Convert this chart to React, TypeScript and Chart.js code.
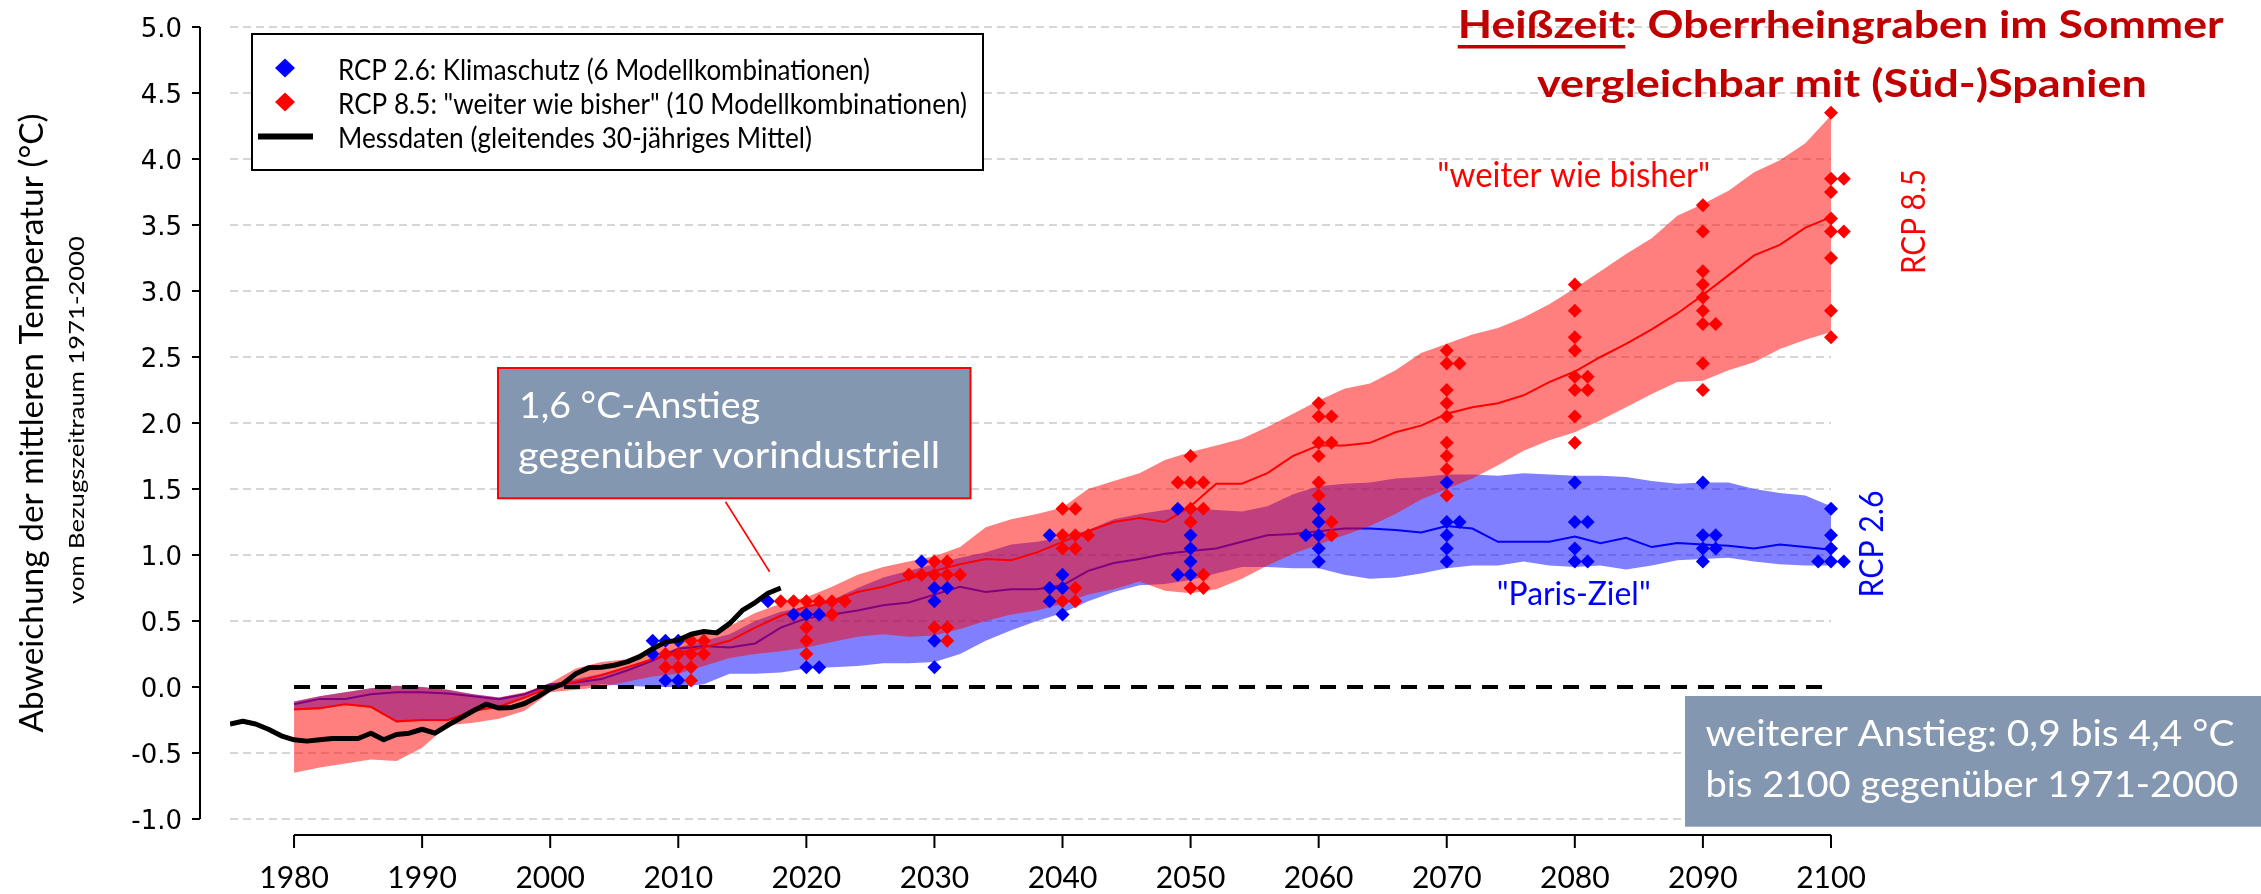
import React, { useEffect, useRef } from 'react';
import { Chart, registerables } from 'chart.js';

Chart.register(...registerables);

// ---------------- data ----------------
const bandYears = [
  1980, 1982, 1984, 1986, 1988, 1990, 1992, 1994, 1996, 1998,
  2000, 2002, 2004, 2006, 2008, 2010, 2012, 2014, 2016, 2018,
  2020, 2022, 2024, 2026, 2028, 2030, 2032, 2034, 2036, 2038,
  2040, 2042, 2044, 2046, 2048, 2050, 2052, 2054, 2056, 2058,
  2060, 2062, 2064, 2066, 2068, 2070, 2072, 2074, 2076, 2078,
  2080, 2082, 2084, 2086, 2088, 2090, 2092, 2094, 2096, 2098,
  2100,
];

const rcp85Upper = [
  -0.11, -0.07, -0.04, -0.01, 0.01, 0.0, -0.02, -0.055, -0.08, -0.04,
  0.03, 0.14, 0.19, 0.21, 0.3, 0.36, 0.41, 0.46, 0.56, 0.63,
  0.68, 0.76, 0.85, 0.91, 0.95, 0.99, 1.06, 1.21, 1.27, 1.31,
  1.36, 1.5, 1.56, 1.62, 1.72, 1.78, 1.83, 1.88, 1.97, 2.07,
  2.17, 2.26, 2.3, 2.4, 2.53, 2.6, 2.67, 2.72, 2.8, 2.9,
  3.02, 3.15, 3.28, 3.4, 3.57, 3.66, 3.76, 3.9, 3.99, 4.12,
  4.33,
];

const rcp85Mean = [
  -0.17, -0.16, -0.13, -0.15, -0.26, -0.25, -0.25, -0.18, -0.15, -0.08,
  0.0, 0.04, 0.09, 0.15, 0.21, 0.26, 0.3, 0.35, 0.45, 0.54,
  0.61, 0.65, 0.72, 0.76, 0.82, 0.88, 0.93, 0.97, 0.96, 1.02,
  1.1, 1.18, 1.25, 1.28, 1.25, 1.37, 1.54, 1.54, 1.62, 1.75,
  1.83, 1.83, 1.85, 1.93, 1.98, 2.07, 2.12, 2.15, 2.21, 2.31,
  2.39, 2.5, 2.6, 2.71, 2.83, 2.97, 3.12, 3.27, 3.35, 3.48,
  3.56,
];

const rcp85Lower = [
  -0.65, -0.61, -0.58, -0.55, -0.56, -0.46, -0.29, -0.27, -0.24, -0.18,
  -0.04, -0.02, 0.0, 0.04, 0.08, 0.1, 0.16, 0.22, 0.25, 0.27,
  0.3, 0.34, 0.38, 0.4, 0.38, 0.39, 0.44, 0.5, 0.55, 0.58,
  0.63, 0.7, 0.74, 0.8, 0.73, 0.71, 0.74, 0.82, 0.92, 1.01,
  1.08, 1.15, 1.22, 1.31, 1.42, 1.5, 1.58, 1.68, 1.79, 1.87,
  1.93, 2.02, 2.12, 2.22, 2.31, 2.32, 2.4, 2.46, 2.56, 2.63,
  2.69,
];

const rcp26Upper = [
  -0.11, -0.07, -0.04, -0.01, 0.01, 0.0, -0.02, -0.055, -0.08, -0.045,
  0.02, 0.06, 0.1, 0.15, 0.22, 0.3, 0.35, 0.4, 0.5, 0.57,
  0.61, 0.66, 0.75, 0.83, 0.88, 0.93, 0.98, 1.02, 1.08, 1.1,
  1.13, 1.19, 1.27, 1.31, 1.34, 1.36, 1.34, 1.33, 1.37, 1.46,
  1.52, 1.54, 1.55, 1.58, 1.59, 1.61, 1.61, 1.6, 1.62, 1.61,
  1.6, 1.6, 1.59, 1.56, 1.54, 1.55, 1.55, 1.5, 1.47, 1.45,
  1.37,
];

const rcp26Mean = [
  -0.13, -0.09, -0.09, -0.055, -0.04, -0.04, -0.05, -0.07, -0.093, -0.055,
  0.02, 0.035, 0.06, 0.125, 0.2, 0.29, 0.31, 0.3, 0.33, 0.45,
  0.52, 0.55, 0.58, 0.62, 0.64, 0.7, 0.76, 0.72, 0.74, 0.74,
  0.77, 0.88, 0.94, 0.97, 1.01, 1.03, 1.05, 1.1, 1.15, 1.16,
  1.18, 1.2, 1.2, 1.19, 1.17, 1.22, 1.2, 1.1, 1.1, 1.1,
  1.14, 1.09, 1.13, 1.06, 1.09, 1.08, 1.07, 1.05, 1.08, 1.06,
  1.04,
];

const rcp26Lower = [
  -0.175, -0.17, -0.135, -0.16, -0.27, -0.255, -0.26, -0.185, -0.155, -0.085,
  -0.01, 0.0, 0.02, 0.01, 0.0, 0.0, 0.02, 0.1, 0.1, 0.11,
  0.14, 0.15, 0.16, 0.18, 0.18, 0.19, 0.25, 0.35, 0.43, 0.5,
  0.56, 0.65, 0.72, 0.77, 0.78, 0.81, 0.86, 0.91, 0.91, 0.9,
  0.9, 0.85, 0.82, 0.83, 0.86, 0.9, 0.92, 0.92, 0.95, 0.92,
  0.91, 0.92, 0.89, 0.92, 0.96, 0.97, 0.98, 0.95, 0.93, 0.92,
  0.92,
];

const obsYears = [
  1975, 1976, 1977, 1978, 1979, 1980, 1981, 1982, 1983, 1984,
  1985, 1986, 1987, 1988, 1989, 1990, 1991, 1992, 1993, 1994,
  1995, 1996, 1997, 1998, 1999, 2000, 2001, 2002, 2003, 2004,
  2005, 2006, 2007, 2008, 2009, 2010, 2011, 2012, 2013, 2014,
  2015, 2016, 2017, 2018,
];
const obsValues = [
  -0.28, -0.26, -0.28, -0.32, -0.37, -0.4, -0.41, -0.4, -0.39, -0.39,
  -0.39, -0.35, -0.4, -0.36, -0.35, -0.32, -0.35, -0.29, -0.235, -0.18,
  -0.13, -0.16, -0.155, -0.125, -0.075, -0.015, 0.025, 0.1, 0.145, 0.15,
  0.165, 0.19, 0.23, 0.29, 0.34, 0.355, 0.4, 0.42, 0.41, 0.48,
  0.58, 0.64, 0.71, 0.75,
];

const rcp26MarkerYears = [
  2008, 2009, 2010, 2008, 2009, 2010,
  2017, 2019, 2020, 2021, 2020, 2021,
  2029, 2030, 2031, 2030, 2030, 2030,
  2039, 2040, 2039, 2040, 2039, 2040,
  2049, 2050, 2050, 2050, 2049, 2050,
  2060, 2060, 2059, 2060, 2060, 2060,
  2070, 2070, 2071, 2070, 2070, 2070,
  2080, 2080, 2081, 2080, 2080, 2081,
  2090, 2090, 2091, 2090, 2091, 2090,
  2100, 2100, 2100, 2099, 2100, 2101,
];
const rcp26MarkerValues = [
  0.35, 0.35, 0.35, 0.25, 0.05, 0.05,
  0.65, 0.55, 0.55, 0.55, 0.15, 0.15,
  0.95, 0.75, 0.75, 0.65, 0.35, 0.15,
  1.15, 0.85, 0.75, 0.75, 0.65, 0.55,
  1.35, 1.15, 1.05, 0.95, 0.85, 0.85,
  1.35, 1.25, 1.15, 1.15, 1.05, 0.95,
  1.55, 1.25, 1.25, 1.15, 1.05, 0.95,
  1.55, 1.25, 1.25, 1.05, 0.95, 0.95,
  1.55, 1.15, 1.15, 1.05, 1.05, 0.95,
  1.35, 1.15, 1.05, 0.95, 0.95, 0.95,
];

const rcp85MarkerYears = [
  2011, 2012, 2009, 2010, 2011, 2012, 2009, 2010, 2011, 2011,
  2018, 2019, 2020, 2021, 2022, 2023, 2022, 2020, 2020, 2020,
  2030, 2031, 2028, 2029, 2030, 2031, 2032, 2030, 2031, 2031,
  2040, 2041, 2040, 2041, 2042, 2040, 2041, 2041, 2040, 2041,
  2050, 2049, 2050, 2051, 2050, 2051, 2050, 2051, 2050, 2051,
  2060, 2060, 2061, 2060, 2061, 2060, 2060, 2060, 2061, 2061,
  2070, 2070, 2071, 2070, 2070, 2070, 2070, 2070, 2070, 2070,
  2080, 2080, 2080, 2080, 2080, 2081, 2080, 2081, 2080, 2080,
  2090, 2090, 2090, 2090, 2090, 2090, 2090, 2091, 2090, 2090,
  2100, 2100, 2101, 2100, 2100, 2100, 2101, 2100, 2100, 2100,
];
const rcp85MarkerValues = [
  0.35, 0.35, 0.25, 0.25, 0.25, 0.25, 0.15, 0.15, 0.15, 0.05,
  0.65, 0.65, 0.65, 0.65, 0.65, 0.65, 0.55, 0.45, 0.35, 0.25,
  0.95, 0.95, 0.85, 0.85, 0.85, 0.85, 0.85, 0.45, 0.45, 0.35,
  1.35, 1.35, 1.15, 1.15, 1.15, 1.05, 1.05, 0.75, 0.65, 0.65,
  1.75, 1.55, 1.55, 1.55, 1.35, 1.35, 1.25, 0.85, 0.75, 0.75,
  2.15, 2.05, 2.05, 1.85, 1.85, 1.75, 1.55, 1.45, 1.25, 1.15,
  2.55, 2.45, 2.45, 2.25, 2.15, 2.05, 1.85, 1.75, 1.65, 1.45,
  3.05, 2.85, 2.65, 2.55, 2.35, 2.35, 2.25, 2.25, 2.05, 1.85,
  3.65, 3.45, 3.15, 3.05, 2.95, 2.85, 2.75, 2.75, 2.45, 2.25,
  4.35, 3.85, 3.85, 3.75, 3.55, 3.45, 3.45, 3.25, 2.85, 2.65,
];

const zeroLineYears = [1980, 2100];
const zeroLineValues = [0, 0];

const yTicks = [5.0, 4.5, 4.0, 3.5, 3.0, 2.5, 2.0, 1.5, 1.0, 0.5, 0.0, -0.5, -1.0];
const xTicks = [1980, 1990, 2000, 2010, 2020, 2030, 2040, 2050, 2060, 2070, 2080, 2090, 2100];

const legendLabels = [
  'RCP 2.6: Klimaschutz (6 Modellkombinationen)',
  'RCP 8.5: "weiter wie bisher" (10 Modellkombinationen)',
  'Messdaten (gleitendes 30-jähriges Mittel)',
];
const titleStrong = 'Heißzeit';
const titleRest = ': Oberrheingraben im Sommer';
const titleLine2 = 'vergleichbar mit (Süd-)Spanien';
const yTitle = 'Abweichung der mittleren Temperatur (°C)';
const ySubTitle = 'vom Bezugszeitraum 1971-2000';
const note1 = ['1,6 °C-Anstieg', 'gegenüber vorindustriell'];
const note2 = ['weiterer Anstieg: 0,9 bis 4,4 °C', 'bis 2100 gegenüber 1971-2000'];
const label85 = '"weiter wie bisher"';
const label26 = '"Paris-Ziel"';
const side85 = 'RCP 8.5';
const side26 = 'RCP 2.6';

// ---------------- helpers ----------------
const W = 2261;
const H = 894;
const RED = '#ff0000';
const BLUE = '#0000ff';
const DARKRED = '#c00000';
const BOXFILL = '#8497b0';
const SANS = 'Lato, "Open Sans", "Noto Sans", sans-serif';

const pts = (xs: number[], ys: number[]) => xs.map((x, i) => ({ x, y: ys[i] }));

function drawFit(
  ctx: CanvasRenderingContext2D,
  text: string,
  x: number,
  y: number,
  font: string,
  color: string,
  width: number,
  align: CanvasTextAlign = 'left',
  rotate = 0
) {
  ctx.save();
  ctx.font = font;
  const w = ctx.measureText(text).width;
  const s = width / w;
  ctx.translate(x, y);
  if (rotate) ctx.rotate(rotate);
  ctx.scale(s, 1);
  ctx.fillStyle = color;
  ctx.textAlign = align;
  ctx.textBaseline = 'alphabetic';
  ctx.fillText(text, 0, 0);
  ctx.restore();
  return s;
}

function diamond(ctx: CanvasRenderingContext2D, cx: number, cy: number, hw: number, hh: number, color: string) {
  ctx.beginPath();
  ctx.moveTo(cx - hw, cy);
  ctx.lineTo(cx, cy - hh);
  ctx.lineTo(cx + hw, cy);
  ctx.lineTo(cx, cy + hh);
  ctx.closePath();
  ctx.fillStyle = color;
  ctx.fill();
}

const decor = {
  id: 'decor',
  beforeDatasetsDraw(chart: any) {
    const { ctx, chartArea } = chart;
    const xs = chart.scales.x;
    const ys = chart.scales.y;
    ctx.save();
    ctx.strokeStyle = '#d6d6d6';
    ctx.lineWidth = 2;
    ctx.setLineDash([8, 5]);
    const x0 = chartArea.left;
    const x1 = xs.getPixelForValue(xTicks[xTicks.length - 1]);
    yTicks.forEach((v) => {
      if (v === 0) return;
      const py = Math.round(ys.getPixelForValue(v));
      ctx.beginPath();
      ctx.moveTo(x0, py);
      ctx.lineTo(x1, py);
      ctx.stroke();
    });
    ctx.restore();
  },
  afterDraw(chart: any) {
    const { ctx, chartArea } = chart;
    const xs = chart.scales.x;
    const ys = chart.scales.y;
    ctx.save();
    ctx.setLineDash([]);

    // ---- y axis ----
    const axX = chartArea.left - 30;
    ctx.strokeStyle = '#000';
    ctx.lineWidth = 2;
    ctx.beginPath();
    ctx.moveTo(axX, ys.getPixelForValue(yTicks[0]));
    ctx.lineTo(axX, ys.getPixelForValue(yTicks[yTicks.length - 1]));
    ctx.stroke();
    ctx.font = '26px "DejaVu Sans", Verdana, sans-serif';
    ctx.fillStyle = '#000';
    ctx.textAlign = 'right';
    ctx.textBaseline = 'alphabetic';
    yTicks.forEach((v) => {
      const py = ys.getPixelForValue(v);
      ctx.beginPath();
      ctx.moveTo(axX - 8, py);
      ctx.lineTo(axX, py);
      ctx.stroke();
      ctx.fillText(v.toFixed(1), axX - 18, py + 9.5);
    });

    // ---- x axis ----
    const axY = chartArea.bottom + 16;
    ctx.beginPath();
    ctx.moveTo(xs.getPixelForValue(xTicks[0]), axY);
    ctx.lineTo(xs.getPixelForValue(xTicks[xTicks.length - 1]), axY);
    ctx.stroke();
    ctx.font = `30px ${SANS}`;
    ctx.textAlign = 'center';
    xTicks.forEach((t) => {
      const px = xs.getPixelForValue(t);
      ctx.beginPath();
      ctx.moveTo(px, axY);
      ctx.lineTo(px, axY + 13);
      ctx.stroke();
      ctx.fillText(String(t), px, 888);
    });

    // ---- y titles ----
    const midY = (chartArea.top + chartArea.bottom) / 2;
    drawFit(ctx, yTitle, 43, midY, `32px ${SANS}`, '#000', 619, 'center', -Math.PI / 2);
    drawFit(ctx, ySubTitle, 84, midY - 3, `22px ${SANS}`, '#000', 368, 'center', -Math.PI / 2);

    // ---- legend ----
    ctx.fillStyle = '#fff';
    ctx.fillRect(252, 34, 731, 136);
    ctx.strokeStyle = '#000';
    ctx.lineWidth = 2;
    ctx.strokeRect(252, 34, 731, 136);
    diamond(ctx, 285, 68, 10, 9.5, BLUE);
    diamond(ctx, 285, 102, 10, 9.5, RED);
    ctx.fillStyle = '#000';
    ctx.fillRect(258, 133.5, 55, 6);
    drawFit(ctx, legendLabels[0], 338, 80, `28px ${SANS}`, '#000', 532);
    drawFit(ctx, legendLabels[1], 338, 114, `28px ${SANS}`, '#000', 629);
    drawFit(ctx, legendLabels[2], 338, 148, `28px ${SANS}`, '#000', 474);

    // ---- title ----
    const tfont = `bold 38px ${SANS}`;
    const full = titleStrong + titleRest;
    const s = drawFit(ctx, full, 1457.7, 37.5, tfont, DARKRED, 766);
    ctx.font = tfont;
    const ulw = ctx.measureText(titleStrong).width * s;
    ctx.fillStyle = DARKRED;
    ctx.fillRect(1457.7, 45, ulw, 3.5);
    drawFit(ctx, titleLine2, 1842, 97, tfont, DARKRED, 610, 'center');

    // ---- annotation 1 ----
    ctx.fillStyle = BOXFILL;
    ctx.fillRect(498, 368, 472.5, 130.3);
    ctx.strokeStyle = RED;
    ctx.lineWidth = 2;
    ctx.strokeRect(498, 368, 472.5, 130.3);
    drawFit(ctx, note1[0], 519, 418.3, `36px ${SANS}`, '#fff', 241);
    drawFit(ctx, note1[1], 518, 468.3, `36px ${SANS}`, '#fff', 422);
    ctx.strokeStyle = RED;
    ctx.lineWidth = 1.6;
    ctx.beginPath();
    ctx.moveTo(725.5, 501.7);
    ctx.lineTo(769.6, 571.7);
    ctx.stroke();

    // ---- annotation 2 ----
    ctx.fillStyle = BOXFILL;
    ctx.fillRect(1685, 696, W - 1685, 130.7);
    drawFit(ctx, note2[0], 1705.4, 745.7, `37px ${SANS}`, '#fff', 529);
    drawFit(ctx, note2[1], 1705.4, 796.7, `37px ${SANS}`, '#fff', 533);

    // ---- scenario labels ----
    drawFit(ctx, label85, 1437.3, 186.7, `34px ${SANS}`, RED, 273);
    drawFit(ctx, label26, 1496.7, 605, `33px ${SANS}`, BLUE, 154);
    drawFit(ctx, side85, 1925, 221.5, `33px ${SANS}`, RED, 105, 'center', -Math.PI / 2);
    drawFit(ctx, side26, 1883.3, 544, `33px ${SANS}`, BLUE, 107, 'center', -Math.PI / 2);

    ctx.restore();
  },
};

export default function App() {
  const ref = useRef<HTMLCanvasElement | null>(null);

  useEffect(() => {
    const canvas = ref.current;
    if (!canvas) return;
    const lineBase = { pointRadius: 0, tension: 0, fill: false };
    const chart = new Chart(canvas, {
      type: 'line',
      data: {
        datasets: [
          {
            label: 'Messdaten',
            data: pts(obsYears, obsValues),
            borderColor: '#000',
            borderWidth: 5,
            borderJoinStyle: 'round',
            ...lineBase,
            order: 0,
          },
          {
            label: 'RCP 8.5 Modelle',
            data: pts(rcp85MarkerYears, rcp85MarkerValues),
            showLine: false,
            pointStyle: 'rectRot',
            pointRadius: 7,
            pointBorderWidth: 0,
            pointBackgroundColor: RED,
            borderColor: RED,
            order: 1,
          },
          {
            label: 'RCP 2.6 Modelle',
            data: pts(rcp26MarkerYears, rcp26MarkerValues),
            showLine: false,
            pointStyle: 'rectRot',
            pointRadius: 7,
            pointBorderWidth: 0,
            pointBackgroundColor: BLUE,
            borderColor: BLUE,
            order: 2,
          },
          {
            label: 'Null',
            data: pts(zeroLineYears, zeroLineValues),
            borderColor: '#000',
            borderWidth: 4,
            borderDash: [16, 11],
            ...lineBase,
            order: 3,
          },
          {
            label: 'RCP 8.5 Mittel',
            data: pts(bandYears, rcp85Mean),
            borderColor: RED,
            borderWidth: 2,
            ...lineBase,
            order: 4,
          },
          {
            label: 'RCP 8.5 max',
            data: pts(bandYears, rcp85Upper),
            borderColor: 'transparent',
            borderWidth: 0,
            backgroundColor: 'rgba(255,0,0,0.5)',
            pointRadius: 0,
            tension: 0,
            fill: '+1',
            order: 5,
          },
          {
            label: 'RCP 8.5 min',
            data: pts(bandYears, rcp85Lower),
            borderColor: 'transparent',
            borderWidth: 0,
            ...lineBase,
            order: 6,
          },
          {
            label: 'RCP 2.6 Mittel',
            data: pts(bandYears, rcp26Mean),
            borderColor: BLUE,
            borderWidth: 2,
            ...lineBase,
            order: 7,
          },
          {
            label: 'RCP 2.6 max',
            data: pts(bandYears, rcp26Upper),
            borderColor: 'transparent',
            borderWidth: 0,
            backgroundColor: 'rgba(0,0,255,0.5)',
            pointRadius: 0,
            tension: 0,
            fill: '+1',
            order: 8,
          },
          {
            label: 'RCP 2.6 min',
            data: pts(bandYears, rcp26Lower),
            borderColor: 'transparent',
            borderWidth: 0,
            ...lineBase,
            order: 9,
          },
        ],
      },
      options: {
        responsive: false,
        maintainAspectRatio: false,
        animation: false,
        devicePixelRatio: 1,
        events: [],
        layout: { padding: { left: 230, right: 404.4, top: 27, bottom: 75 } },
        scales: {
          x: { type: 'linear', min: 1975, max: 2102, display: false },
          y: { type: 'linear', min: -1, max: 5, display: false },
        },
        plugins: {
          legend: { display: false },
          tooltip: { enabled: false },
          title: { display: false },
          filler: { propagate: false },
        },
      },
      plugins: [decor],
    } as any);
    return () => chart.destroy();
  }, []);

  return (
    <div style={{ position: 'absolute', left: 0, top: 0, width: W, height: H, background: '#fff' }}>
      <canvas ref={ref} width={W} height={H} style={{ display: 'block', width: W, height: H }} />
    </div>
  );
}
